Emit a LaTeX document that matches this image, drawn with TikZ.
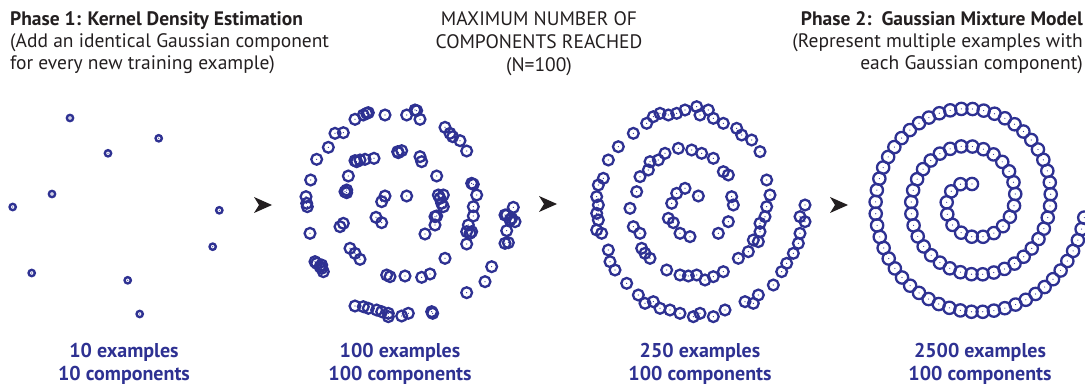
\documentclass[tikz,border=0pt]{standalone}
\usepackage{fontspec}
\setmainfont{PT Sans}
\definecolor{cblue}{HTML}{2E3192}
\definecolor{ink}{HTML}{231F20}
\tikzset{
  comp/.style={circle, draw=cblue, line width=2.3pt, inner sep=0pt, minimum size=#1,
    path picture={\fill[cblue] (path picture bounding box.center) circle[radius=0.6pt];}},
  comp/.default=10.8pt,
  hdr/.style={font=\fontsize{19.5}{22}\selectfont, text=ink, inner sep=0pt},
  hdrb/.style={font=\bfseries\fontsize{19.5}{22}\selectfont, text=ink, inner sep=0pt},
  lab/.style={font=\bfseries\fontsize{20}{22}\selectfont, text=cblue, inner sep=0pt, anchor=base},
  tipshape/.style={fill=ink, draw=none}
}
\begin{document}
\begin{tikzpicture}[x=1pt,y=-1pt]
\useasboundingbox (0,0) rectangle (1085,390);
% headers
\node[hdrb, anchor=base west] (h1) at (10,26) {Phase 1: Kernel Density Estimation};
\node[hdr, anchor=base west] (h2) at (10,48) {(Add an identical Gaussian component};
\node[hdr, anchor=base west] (h3) at (10,70) {for every new training example)};
\node[hdr, anchor=base] (m1) at (539,26) {MAXIMUM NUMBER OF};
\node[hdr, anchor=base] (m2) at (539,49) {COMPONENTS REACHED};
\node[hdr, anchor=base] (m3) at (539,72) {(N=100)};
\node[hdrb, anchor=base east] (r1) at (1083,26) {Phase 2:\ \ Gaussian Mixture Model};
\node[hdr, anchor=base east] (r2) at (1083,48) {(Represent multiple examples with};
\node[hdr, anchor=base east] (r3) at (1083,70) {each Gaussian component)};
% panel 1
\foreach \x/\y [count=\i] in {70/118, 158.7/138.3, 108/153.3, 52/194, 12.7/207, 219.3/210.3, 212.7/246.7, 31.7/273, 127.7/280.3, 139.7/314}
  \node[comp=6.3pt, line width=2.4pt] (a\i) at (\x,\y) {};
% panel 2
\foreach \x/\y [count=\i] in {345/75, 295/68, 280/75, 290/70, 255/88, 220/128, 195/130, 175/172, 140/208, 122/270, 108/320, 110/340, 112/350, 120/430, 135/515, 140/520, 155/535, 160/545, 155/525, 150/530, 240/475, 255/490, 270/508, 210/410, 220/400, 230/308, 225/305, 230/300, 235/258, 260/215, 255/212, 270/210, 285/208, 312/205, 383/185, 385/188, 395/182, 450/200, 455/215, 500/258, 410/318, 345/318, 335/335, 318/382, 335/398, 465/432, 495/405, 500/378, 495/380, 520/350, 510/325, 515/340, 520/315, 505/315, 410/75, 435/60, 440/62, 450/88, 525/112, 540/130, 548/140, 570/152, 590/183, 605/280, 610/283, 620/315, 610/350, 610/378, 595/405, 590/425, 605/425, 600/430, 590/462, 730/352, 710/375, 705/375, 720/390, 725/385, 735/395, 710/422, 705/460, 715/458, 665/530, 645/575, 590/608, 525/505, 480/552, 455/562, 405/558, 350/555, 360/560, 255/648, 280/650, 295/655, 320/660, 335/665, 355/670, 355/680, 395/678, 415/670, 485/665, 488/670}
  \node[comp] (b\i) at ({270+\x/3},{90+\y/3}) {};
% panel 3
\foreach \x/\y [count=\i] in {415/318, 375/295, 350/310, 335/340, 325/385, 340/398, 360/430, 390/440, 475/430, 505/395, 520/345, 515/320, 505/255, 490/245, 460/205, 425/190, 395/180, 355/175, 315/190, 295/210, 270/215, 265/240, 240/260, 230/305, 210/355, 220/410, 240/430, 245/475, 255/490, 270/505, 320/540, 360/555, 385/558, 410/555, 435/570, 460/560, 490/545, 535/505, 565/485, 580/450, 595/455, 600/425, 600/400, 615/380, 620/350, 630/315, 620/270, 600/185, 575/150, 545/135, 530/115, 490/100, 460/85, 445/60, 420/75, 410/50, 375/60, 350/70, 325/75, 300/70, 280/80, 260/100, 220/130, 175/170, 145/210, 130/265, 115/285, 110/320, 115/345, 110/370, 115/390, 110/420, 125/430, 145/480, 150/515, 165/540, 200/580, 235/615, 255/640, 280/635, 300/655, 330/660, 360/670, 400/680, 420/670, 460/680, 495/660, 555/635, 580/640, 595/615, 640/585, 665/545, 680/520, 700/490, 715/460, 720/430, 735/395, 720/380, 735/345}
  \node[comp] (c\i) at ({560+\x/3},{90+\y/3}) {};
% panel 4: Archimedean spiral, equal arc length
\pgfmathsetmacro\Tend{(1072-90)/57.2958}
\pgfmathsetmacro\Lstep{(17*\Tend+5.97*\Tend*\Tend/2)/99}
\foreach \i in {0,...,99}{
  \pgfmathsetmacro\sarc{\Lstep*\i}
  \pgfmathsetmacro\tpar{(-17+sqrt(289+11.94*\sarc))/5.97}
  \pgfmathsetmacro\rad{17+5.97*\tpar}
  \pgfmathsetmacro\ang{90+\tpar*57.2958}
  \node[comp=12.3pt] (d\i) at ({972+0.95*\rad*cos(\ang)},{201-\rad*sin(\ang)}) {};
}
% arrowheads
\coordinate (t1) at (272,205);
\coordinate (t2) at (557,204);
\coordinate (t3) at (848,205);
\foreach \tt in {t1,t2,t3}
  \fill[tipshape] (\tt) -- ++(-18,-8) -- ++(5,8) -- ++(-5,8) -- cycle;
% bottom labels
\node[lab] (l1a) at (124,357) {10 examples};
\node[lab] (l1b) at (124,380) {10 components};
\node[lab] (l2a) at (400,357) {100 examples};
\node[lab] (l2b) at (400,380) {100 components};
\node[lab] (l3a) at (700,357) {250 examples};
\node[lab] (l3b) at (700,380) {100 components};
\node[lab] (l4a) at (980,357) {2500 examples};
\node[lab] (l4b) at (980,380) {100 components};
\end{tikzpicture}
\end{document}
